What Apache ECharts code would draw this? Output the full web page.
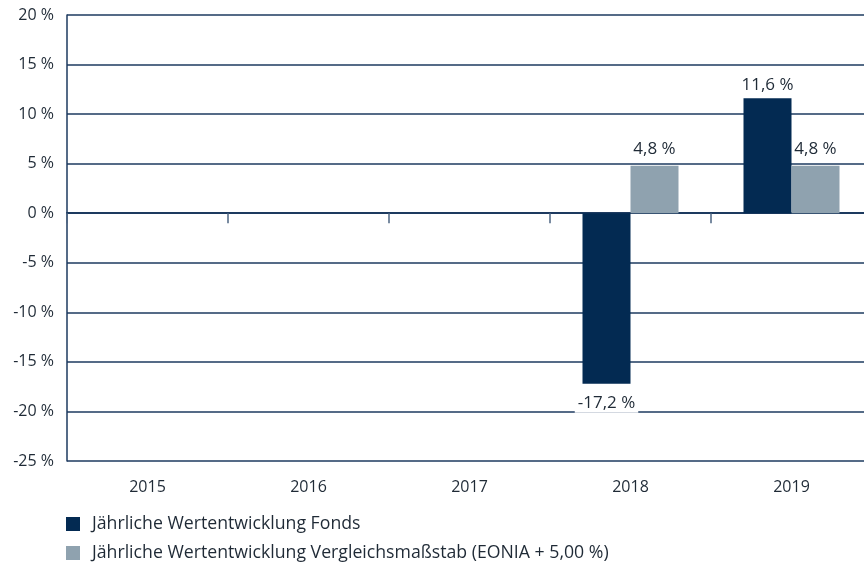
<!DOCTYPE html>
<html><head><meta charset="utf-8">
<script src="https://cdn.jsdelivr.net/npm/echarts@6/dist/echarts.min.js"></script>
<style>html,body{margin:0;padding:0;background:#fff}#c{width:864px;height:564px}</style>
</head><body><div id="c"></div>
<script>
const categories = ['2015','2016','2017','2018','2019'];
const fondsValues = [null, null, null, -17.2, 11.6];
const benchValues = [null, null, null, 4.8, 4.8];
const seriesNames = ['Jährliche Wertentwicklung Fonds','Jährliche Wertentwicklung Vergleichsmaßstab (EONIA + 5,00 %)'];
const yMin = -25, yMax = 20, yStep = 5;

const FONT = 'Open Sans';
const TXT = '#1f2a36';
const LINE = '#1d3a5f';
const fmt = v => v.toFixed(1).replace('.', ',') + ' %';

const chart = echarts.init(document.getElementById('c'), null, {renderer:'canvas'});
const fondsData = fondsValues.map(v => v == null ? null : (v < 0
  ? {value:v, label:{position:'bottom', distance:10, backgroundColor:'#fff', padding:[1,3]}}
  : v));
chart.setOption({
  animation:false,
  textStyle:{fontFamily:FONT},
  grid:{left:67, top:15, width:805, height:446, containLabel:false, outerBoundsMode:'none'},
  legend:{
    orient:'vertical', left:66, top:515, padding:0, itemGap:11, itemWidth:14, itemHeight:14,
    icon:'rect', textStyle:{fontFamily:FONT, fontSize:17.7, lineHeight:18, color:TXT, padding:[0,0,0,7]},
    data:seriesNames
  },
  xAxis:[{
    type:'category', data:categories,
    axisLine:{onZero:true, lineStyle:{color:LINE, width:2}},
    axisTick:{show:true, length:10, inside:false, lineStyle:{color:'#4d6582', width:1.5}},
    axisLabel:{show:false}
  },{
    type:'category', data:categories, position:'bottom',
    axisLine:{show:false}, axisTick:{show:false},
    axisLabel:{show:true, fontFamily:FONT, fontSize:16, color:TXT, margin:18}
  }],
  yAxis:{
    type:'value', min:yMin, max:yMax, interval:yStep,
    axisLine:{show:true, lineStyle:{color:LINE, width:1.5}},
    axisTick:{show:false},
    splitLine:{show:true, lineStyle:{color:LINE, width:1.5}},
    axisLabel:{fontFamily:FONT, fontSize:16, color:TXT, margin:13, formatter:v => v + ' %'}
  },
  series:[{
    name:seriesNames[0], type:'bar', xAxisIndex:0, data:fondsData,
    barWidth:48, barGap:'0%',
    itemStyle:{color:'#032a52'},
    label:{show:true, position:'top', distance:5, fontFamily:FONT, fontSize:17, color:TXT,
      formatter:p => p.value == null ? '' : fmt(p.value)}
  },{
    name:seriesNames[1], type:'bar', xAxisIndex:0, data:benchValues,
    barWidth:48, barGap:'0%',
    itemStyle:{color:'#8fa2af'},
    label:{show:true, position:'top', distance:8, fontFamily:FONT, fontSize:17, color:TXT,
      formatter:p => p.value == null ? '' : fmt(p.value)}
  }]
});
</script></body></html>
